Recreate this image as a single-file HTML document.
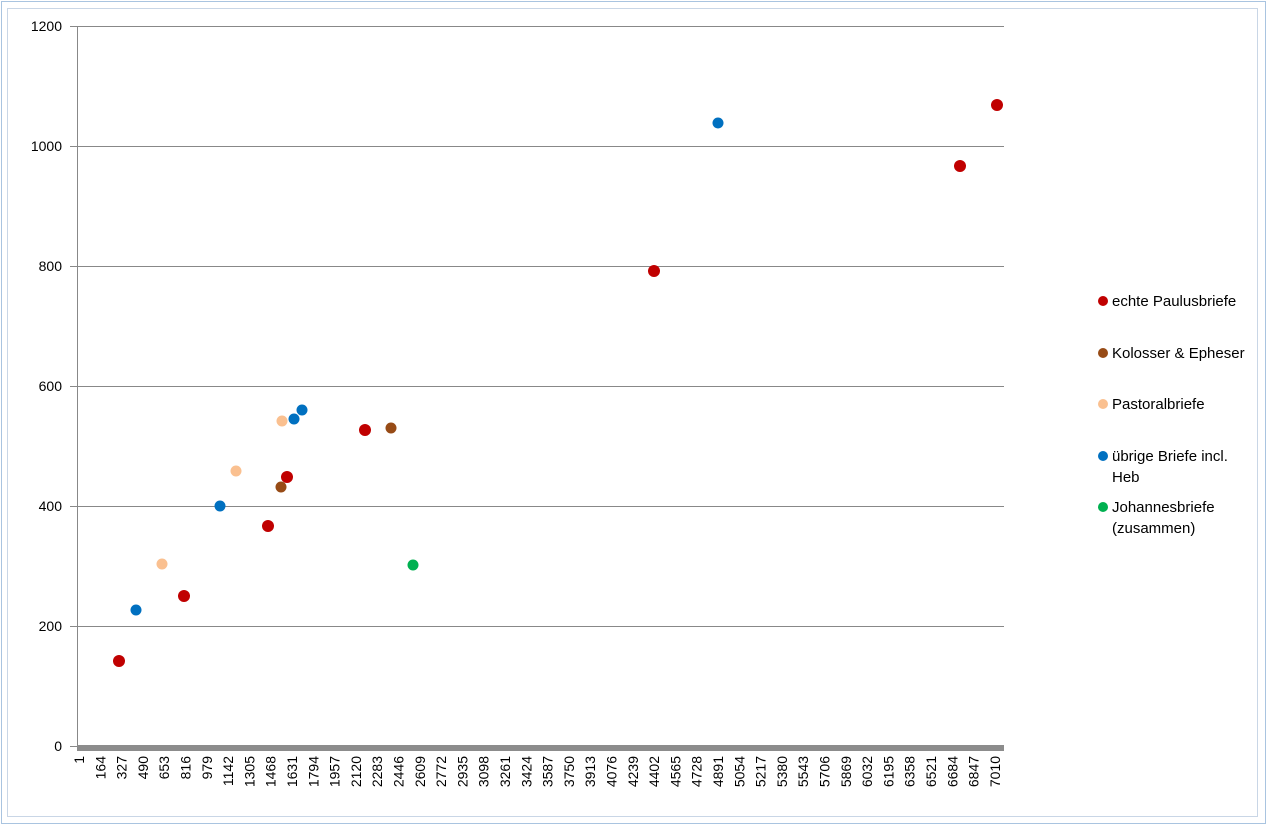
<!DOCTYPE html>
<html><head><meta charset="utf-8"><style>
body{margin:0;background:#fff;}
svg{display:block;font-family:"Liberation Sans",sans-serif;}
</style></head><body>
<svg width="1267" height="825" viewBox="0 0 1267 825" xmlns="http://www.w3.org/2000/svg">
<rect x="0" y="0" width="1267" height="825" fill="#fff"/>
<rect x="1.5" y="1.5" width="1264" height="822" fill="none" stroke="#a9c4e0" stroke-width="1"/>
<rect x="7.5" y="8.5" width="1250" height="808" fill="none" stroke="#c9d6e6" stroke-width="1"/>
<g stroke="#888" stroke-width="1">
<line x1="70" y1="26.5" x2="1004" y2="26.5"/>
<line x1="70" y1="146.5" x2="1004" y2="146.5"/>
<line x1="70" y1="266.5" x2="1004" y2="266.5"/>
<line x1="70" y1="386.5" x2="1004" y2="386.5"/>
<line x1="70" y1="506.5" x2="1004" y2="506.5"/>
<line x1="70" y1="626.5" x2="1004" y2="626.5"/>
<line x1="70" y1="746.5" x2="77" y2="746.5"/>
<line x1="77.5" y1="26" x2="77.5" y2="748"/>
</g>
<rect x="77" y="745" width="927" height="6" fill="#8c8c8c"/>
<g font-size="14" fill="#000" text-anchor="end">
<text x="62" y="31">1200</text>
<text x="62" y="151">1000</text>
<text x="62" y="271">800</text>
<text x="62" y="391">600</text>
<text x="62" y="511">400</text>
<text x="62" y="631">200</text>
<text x="62" y="751">0</text>
</g>
<g font-size="14" fill="#000" text-anchor="end" id="xl"></g>
<g id="pts"></g>
<g font-size="15" fill="#000">
<circle cx="1103" cy="301" r="5" fill="#c00000"/><text x="1112" y="306">echte Paulusbriefe</text>
<circle cx="1103" cy="353" r="5" fill="#974b16"/><text x="1112" y="358">Kolosser &amp; Epheser</text>
<circle cx="1103" cy="404" r="5" fill="#fac090"/><text x="1112" y="409">Pastoralbriefe</text>
<circle cx="1103" cy="456" r="5" fill="#0070c0"/><text x="1112" y="461">übrige Briefe incl.</text><text x="1112" y="482">Heb</text>
<circle cx="1103" cy="507" r="5" fill="#00b050"/><text x="1112" y="512">Johannesbriefe</text><text x="1112" y="533">(zusammen)</text>
</g>
<script>
var g=document.getElementById('xl'),ns="http://www.w3.org/2000/svg";
for(var i=0;i<44;i++){var v=1+163*i,x=79+i*21.3+5;var t=document.createElementNS(ns,'text');
t.setAttribute('transform','translate('+x+',756) rotate(-90)');t.textContent=v;g.appendChild(t);}
var P=[["#c00000",6,[[119,661],[184,596],[268,526],[287,477],[365,430],[654,271],[960,166],[997,105]]],
["#974b16",5.5,[[281,487],[391,428]]],
["#fac090",5.5,[[162,564],[236,471],[282,421]]],
["#0070c0",5.5,[[136,610],[220,506],[294,419],[302,410],[718,123]]],
["#00b050",5.5,[[413,565]]]];
var pg=document.getElementById('pts');
P.forEach(function(s){s[2].forEach(function(p){var c=document.createElementNS(ns,'circle');
c.setAttribute('cx',p[0]);c.setAttribute('cy',p[1]);c.setAttribute('r',s[1]);c.setAttribute('fill',s[0]);pg.appendChild(c);});});
</script>
</svg>
</body></html>
